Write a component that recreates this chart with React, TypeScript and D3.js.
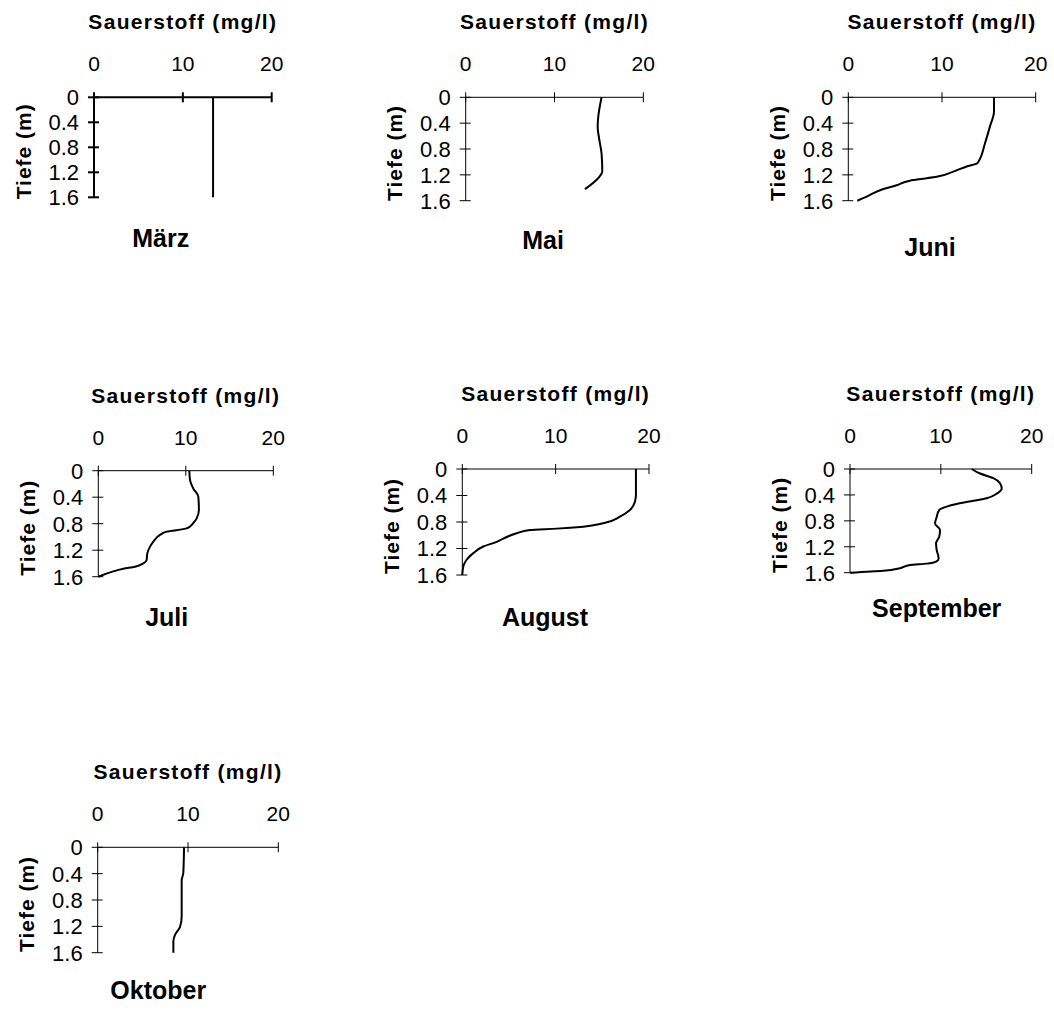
import * as d3 from 'd3';

// Sauerstoff-Tiefenprofile (mg/l) pro Monat
const months = ['März', 'Mai', 'Juni', 'Juli', 'August', 'September', 'Oktober'];

const depthMaerz = [0, 1.6];
const o2Maerz = [13.4, 13.4];

const depthMai = [0, 0.3, 0.45, 0.66, 0.87, 1.15, 1.23, 1.42];
const o2Mai = [15.3, 14.93, 14.86, 15.05, 15.3, 15.38, 15.05, 13.43];

const depthJuni = [0, 0.22, 0.45, 0.71, 0.97, 1.02, 1.07, 1.15, 1.23, 1.26, 1.29, 1.36, 1.42, 1.51, 1.55, 1.6];
const o2Juni = [15.55, 15.55, 15.12, 14.59, 13.99, 13.77, 12.63, 11.2, 9.43, 8.0, 6.58, 5.16, 3.74, 2.31, 1.78, 0.96];

const depthJuli = [0, 0.14, 0.27, 0.39, 0.59, 0.72, 0.79, 0.87, 0.92, 0.97, 1.07, 1.15, 1.25, 1.35, 1.4, 1.45, 1.48, 1.52, 1.6];
const o2Juli = [10.4, 10.48, 10.86, 11.43, 11.5, 11.24, 10.86, 10.1, 7.81, 7.05, 6.29, 5.9, 5.6, 5.52, 5.14, 4.19, 2.86, 1.71, 0];

const depthAugust = [0, 0.39, 0.49, 0.62, 0.72, 0.82, 0.87, 0.9, 0.92, 0.97, 1.05, 1.1, 1.17, 1.27, 1.37, 1.47, 1.6];
const o2August = [18.6, 18.6, 18.5, 17.96, 16.89, 15.1, 12.96, 10.1, 7.25, 5.82, 4.39, 3.68, 2.25, 1.18, 0.46, 0.11, 0];

const depthSeptember = [0, 0.07, 0.14, 0.22, 0.3, 0.38, 0.45, 0.49, 0.54, 0.58, 0.63, 0.74, 0.84, 0.94, 1.04, 1.15, 1.25, 1.38, 1.43, 1.46, 1.48, 1.53, 1.57, 1.6];
const o2September = [13.39, 14.31, 15.78, 16.51, 16.7, 16.15, 15.05, 13.58, 11.74, 10.64, 9.83, 9.54, 9.36, 9.91, 9.83, 9.47, 9.54, 9.76, 9.47, 8.44, 6.61, 5.5, 3.67, 0];

const depthOktober = [0, 0.39, 0.5, 1.05, 1.21, 1.33, 1.43, 1.6];
const o2Oktober = [9.56, 9.48, 9.3, 9.3, 9.11, 8.56, 8.38, 8.38];

const depths = [depthMaerz, depthMai, depthJuni, depthJuli, depthAugust, depthSeptember, depthOktober];
const o2s = [o2Maerz, o2Mai, o2Juni, o2Juli, o2August, o2September, o2Oktober];

const xTicks = [0, 10, 20];
const yTicks = [0, 0.4, 0.8, 1.2, 1.6];
const xTitle = 'Sauerstoff (mg/l)';
const yTitle = 'Tiefe (m)';

// Pixel-Lage der Achsen jedes Diagramms
const layout = [
  { left: 94, right: 271.7, top: 97.3, bottom: 197.3, tx: 160.7, ty: 238.3, bold: true },
  { left: 465.7, right: 643.3, top: 97.3, bottom: 200.7, tx: 543, ty: 240 },
  { left: 848.3, right: 1035.7, top: 97.3, bottom: 200.7, tx: 930, ty: 246.7 },
  { left: 98.3, right: 273.3, top: 470.7, bottom: 576.7, tx: 166.7, ty: 616.7 },
  { left: 462.3, right: 649, top: 469, bottom: 575, tx: 545, ty: 616.7 },
  { left: 850, right: 1031.7, top: 469, bottom: 572.7, tx: 936.7, ty: 608.3 },
  { left: 97.7, right: 278.3, top: 847.3, bottom: 952.7, tx: 158.3, ty: 990 },
];

const font = '"Liberation Sans", Arial, sans-serif';

const Panel = ({ i }: { i: number }) => {
  const l = layout[i];
  const x = d3.scaleLinear().domain([0, 20]).range([l.left, l.right]);
  const y = d3.scaleLinear().domain([0, 1.6]).range([l.top, l.bottom]);
  const pts = depths[i].map((d, k) => [o2s[i][k], d] as [number, number]);
  const line = d3.line<[number, number]>()
    .x(d => x(d[0]))
    .y(d => y(d[1]))
    .curve(d3.curveMonotoneY);
  const axisW = l.bold ? 2 : 1;
  const midX = (l.left + l.right) / 2;
  const midY = (l.top + l.bottom) / 2;

  return (
    <g>
      {/* Achsen */}
      <line x1={x(0)} x2={x(20)} y1={y(0)} y2={y(0)} stroke="#000" strokeWidth={axisW} />
      <line x1={x(0)} x2={x(0)} y1={y(0)} y2={y(1.6)} stroke="#000" strokeWidth={axisW} />
      {xTicks.map(t => (
        <g key={'x' + t}>
          <line x1={x(t)} x2={x(t)} y1={y(0) - 5} y2={y(0) + 5} stroke="#000" strokeWidth={axisW} />
          <text x={x(t)} y={y(0) - 26} textAnchor="middle" fontSize={21} fontFamily={font}>{t}</text>
        </g>
      ))}
      {yTicks.map(t => (
        <g key={'y' + t}>
          <line x1={x(0) - 6} x2={x(0) + 5} y1={y(t)} y2={y(t)} stroke="#000" strokeWidth={axisW} />
          <text x={x(0) - 15} y={y(t)} dy="0.36em" textAnchor="end" fontSize={22} fontFamily={font}>{t}</text>
        </g>
      ))}
      <text x={midX} y={y(0) - 68} textAnchor="middle" fontSize={21} fontWeight="bold"
        letterSpacing={1.3} fontFamily={font}>{xTitle}</text>
      <text transform={`translate(${x(0) - 71},${midY + 4}) rotate(-90)`} dy="0.36em" textAnchor="middle"
        fontSize={21} fontWeight="bold" letterSpacing={1} fontFamily={font}>{yTitle}</text>
      {/* Profil */}
      <path d={line(pts) ?? ''} fill="none" stroke="#000" strokeWidth={2} />
      <text x={l.tx} y={l.ty} dy="0.36em" textAnchor="middle" fontSize={25} fontWeight="bold"
        fontFamily={font}>{months[i]}</text>
    </g>
  );
};

export default function App() {
  return (
    <svg width={1054} height={1011} style={{ position: 'absolute', left: 0, top: 0, background: '#fff' }}>
      <rect width={1054} height={1011} fill="#fff" />
      {months.map((m, i) => <Panel key={m} i={i} />)}
    </svg>
  );
}
